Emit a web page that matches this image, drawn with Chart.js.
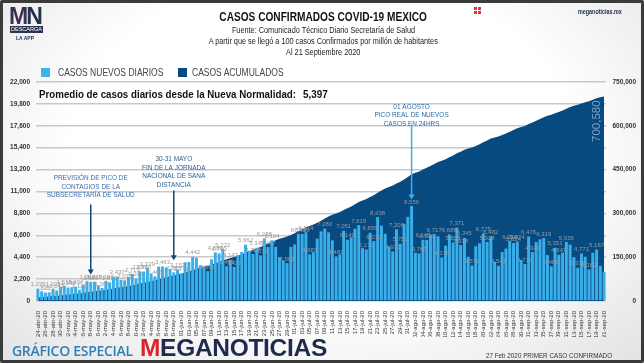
<!DOCTYPE html>
<html>
<head>
<meta charset="utf-8">
<script src="https://cdn.jsdelivr.net/npm/chart.js@4.4.0/dist/chart.umd.min.js"></script>
<style>
  html, body { margin: 0; padding: 0; }
  body {
    width: 644px; height: 363px; position: relative; overflow: hidden;
    background: radial-gradient(ellipse at 50% 40%, #ffffff 55%, #e2e2e2 100%);
    font-family: "Liberation Sans", Arial, sans-serif;
  }
  .frame { position: absolute; left: 0; top: 0; width: 644px; height: 363px; box-sizing: border-box;
    border: 3px solid #3b3b3b; border-radius: 2px; pointer-events: none; z-index: 5; }
  canvas { position: absolute; left: 0; top: 0; }
  .t { position: absolute; white-space: nowrap; }
  .c { left: 0; width: 646px; text-align: center; }
  .n { display: inline-block; transform: scaleX(0.83); transform-origin: left center; }
  .c .n { transform-origin: center center; }
  .title { top: 10px; font-weight: bold; font-size: 12.5px; color: #111; }
  .sub { font-size: 8.5px; color: #222; }
  .leg { top: 67px; font-size: 10px; color: #444; }
  .sq { position: absolute; top: 68px; width: 9px; height: 9px; }
</style>
</head>
<body>
<canvas id="myChart" width="644" height="363"></canvas>

<!-- encabezado -->
<div class="t" style="left:9px;top:5px;font-weight:900;font-size:23px;letter-spacing:-2px;color:#23304f;line-height:22px;"><span style="color:#3a2f4f">M</span>N</div>
<div class="t" style="left:10px;top:26px;width:33px;height:7px;background:#2b3553;color:#fff;font-size:5.5px;line-height:7px;text-align:center;">DESCARGA</div>
<div class="t" style="left:16px;top:35px;font-size:5px;color:#2b3553;font-weight:bold;">LA APP</div>
<div class="t" style="left:474px;top:7px;width:3px;height:3px;background:#d9363e;box-shadow:4px 0 #d9363e,0 4px #d9363e,4px 4px #d9363e;"></div>
<div class="t" style="left:578px;top:8px;font-size:6.5px;font-weight:bold;color:#1c2a4d;"><span class="n">meganoticias.mx</span></div>

<div class="t c title"><span class="n" style="transform:scaleX(0.81)">CASOS CONFIRMADOS COVID-19 MEXICO</span></div>
<div class="t c sub" style="top:25px;"><span class="n" style="transform:scaleX(0.86)">Fuente: Comunicado Técnico Diario Secretaría de Salud</span></div>
<div class="t c sub" style="top:36px;"><span class="n" style="transform:scaleX(0.86)">A partir que se llegó a 100 casos Confirmados por millón de habitantes</span></div>
<div class="t c sub" style="top:47px;"><span class="n" style="transform:scaleX(0.86)">Al 21 Septiembre 2020</span></div>

<!-- leyenda -->
<div class="sq" style="left:41px;background:#3fb3ee;"></div>
<div class="t leg" style="left:58px;"><span class="n" style="transform:scaleX(0.85)">CASOS NUEVOS DIARIOS</span></div>
<div class="sq" style="left:178px;background:#064a80;"></div>
<div class="t leg" style="left:192px;"><span class="n" style="transform:scaleX(0.85)">CASOS ACUMULADOS</span></div>

<div class="t" style="left:39px;top:88px;font-weight:bold;font-size:11px;color:#111;"><span class="n" style="transform:scaleX(0.885)">Promedio de casos diarios desde la Nueva Normalidad:</span></div>
<div class="t" style="left:303px;top:88px;font-weight:bold;font-size:11px;color:#111;"><span class="n" style="transform:scaleX(0.9)">5,397</span></div>

<!-- pie -->
<div class="t" style="left:12px;top:341px;font-family:'Open Sans',Arial;font-weight:600;font-size:14px;color:#2f7fb6;letter-spacing:-0.3px;">GRÁFICO ESPECIAL</div>
<div class="t" style="left:140px;top:334px;font-weight:900;font-size:24.5px;color:#1f2b4c;letter-spacing:-0.3px;"><span style="color:#d8262d">M</span>EGANOTICIAS</div>
<div class="t" style="left:486px;top:352px;font-size:7px;color:#333;"><span class="n" style="transform:scaleX(0.9)">27 Feb 2020 PRIMER CASO CONFIRMADO</span></div>
<div class="frame"></div>

<script>
// Categorías: 24-abr-20 a 21-sep-20
const months = ['abr', 'may', 'jun', 'jul', 'ago', 'sep'];
const monthDays = [[24, 30], [1, 31], [1, 30], [1, 31], [1, 31], [1, 21]];
const dayLabels = [];
monthDays.forEach((r, m) => {
    for (let d = r[0]; d <= r[1]; d++) {
        dayLabels.push(String(d).padStart(2, '0') + '-' + months[m] + '-20');
    }
});

// Casos nuevos diarios
const nuevosDiarios = [
    1239, 970, 835, 852, 1223, 1047, 1425,
    1515, 1349, 1383, 1434, 1120, 1609, 1982, 1906, 1938, 1562, 1305, 1997, 1862, 2409, 2437,
    2112, 2075, 2414, 2713, 2248, 2973, 2960, 3329, 2764, 2485, 3455, 3463, 3377, 3227, 2885, 3152,
    2771, 3891, 3912, 4442, 4346, 3593, 3484, 2999, 4199, 4883, 4790, 5222, 3494, 4147, 3427,
    4599, 4930, 5662, 5030, 4717, 5343, 4577, 6288, 5437, 6104, 5441, 4410, 4050, 3805, 5432,
    5681, 6741, 6740, 6914, 4683, 4902, 6258, 6995, 7280, 6891, 6094, 4482, 4685, 7051, 6149,
    6406, 7257, 7615, 5311, 5172, 6859, 6019, 8438, 7573, 6751, 5480, 4973, 7208, 5752, 7730, 8458,
    9556, 4853, 4767, 6148, 6139, 6590, 6717, 6495, 4376, 5558, 6686, 5858, 7371, 5618, 6345,
    4448, 3571, 5506, 5792, 6775, 5928, 6482, 3948, 3541, 4916, 5267, 6026, 5824, 5974, 4129, 3719,
    6476, 4921, 5937, 6196, 6319, 4614, 3486, 5351, 4647, 4857, 5935, 5674, 4408, 3335, 4771,
    4444, 3182, 4841, 5167, 3542, 2917
];

// Casos acumulados
const acumulados = [
    12872, 13842, 14677, 15529, 16752, 17799, 19224,
    20739, 22088, 23471, 24905, 26025, 27634, 29616, 31522, 33460, 35022, 36327, 38324, 40186,
    42595, 45032, 47144, 49219, 51633, 54346, 56594, 59567, 62527, 65856, 68620, 71105, 74560,
    78023, 81400, 84627, 87512, 90664,
    93435, 97326, 101238, 105680, 110026, 113619, 117103, 120102, 124301, 129184, 133974, 139196,
    142690, 146837, 150264, 154863, 159793, 165455, 170485, 175202, 180545, 185122, 191410, 196847,
    202951, 208392, 212802, 216852, 220657, 226089,
    231770, 238511, 245251, 252165, 256848, 261750, 268008, 275003, 282283, 289174, 295268, 299750,
    304435, 311486, 317635, 324041, 331298, 338913, 344224, 349396, 356255, 362274, 370712, 378285,
    385036, 390516, 395489, 402697, 408449, 416179, 424637,
    434193, 439046, 443813, 449961, 456100, 462690, 469407, 475902, 480278, 485836, 492522, 498380,
    505751, 511369, 517714, 522162, 525733, 531239, 537031, 543806, 549734, 556216, 560164, 563705,
    568621, 573888, 579914, 585738, 591712, 595841, 599560,
    606036, 610957, 616894, 623090, 629409, 634023, 637509, 642860, 647507, 652364, 658299, 663973,
    668381, 671716, 676487, 680931, 684113, 688954, 694121, 697663, 700580
];

const yTicks = { min: 0, max: 22000, step: 2200 };
const y2Ticks = { min: 0, max: 750000, step: 150000 };

// Notas (índice del día al que apuntan)
const notas = [
    { idx: 14, lines: ['PREVISIÓN DE PICO DE', 'CONTAGIOS DE LA', 'SUBSECRETARÍA DE SALUD'], top: 12700, from: 9700, to: 2650, color: '#3b6ea8', arrow: '#0a4678' },
    { idx: 36, lines: ['30-31 MAYO', 'FIN DE LA JORNADA', 'NACIONAL DE SANA', 'DISTANCIA'], top: 14600, from: 11100, to: 4100, color: '#2d5f94', arrow: '#0a4678' },
    { idx: 99, lines: ['01 AGOSTO', 'PICO REAL DE NUEVOS', 'CASOS EN 24HRS'], top: 19900, from: 17700, to: 10200, color: '#2c6aa6', arrow: '#3aaee9' }
];

const fmt = v => v.toLocaleString('en-US');

const labelsPlugin = {
    id: 'etiquetas',
    afterDatasetsDraw(chart) {
        const ctx = chart.ctx;
        const meta = chart.getDatasetMeta(0);
        ctx.save();
        ctx.font = '6px "Liberation Sans", Arial';
        ctx.textAlign = 'center';
        ctx.textBaseline = 'bottom';
        ctx.fillStyle = '#9a9a9a';
        const v = nuevosDiarios;
        meta.data.forEach((bar, i) => {
            const prev = i > 0 ? v[i - 1] : -Infinity;
            const next = i < v.length - 1 ? v[i + 1] : -Infinity;
            const isMax = v[i] > prev && v[i] >= next;
            const isMin = i > 0 && i < v.length - 1 && v[i] < prev && v[i] <= next;
            if (isMax || isMin) ctx.fillText(fmt(v[i]), bar.x, bar.y - 1);
        });

        // notas con flecha
        const xs = chart.scales.x, ys = chart.scales.y;
        notas.forEach(n => {
            const x = xs.getPixelForValue(n.idx);
            ctx.font = '7.5px "Liberation Sans", Arial';
            ctx.fillStyle = n.color;
            ctx.textBaseline = 'top';
            const y0 = ys.getPixelForValue(n.top);
            n.lines.forEach((l, k) => {
                ctx.save();
                ctx.translate(x, y0 + k * 8.5);
                ctx.scale(0.86, 1);
                ctx.fillText(l, 0, 0);
                ctx.restore();
            });
            const ya = ys.getPixelForValue(n.from), yb = ys.getPixelForValue(n.to);
            ctx.strokeStyle = n.arrow;
            ctx.fillStyle = n.arrow;
            ctx.lineWidth = 1.5;
            ctx.beginPath();
            ctx.moveTo(x, ya);
            ctx.lineTo(x, yb - 4);
            ctx.stroke();
            ctx.beginPath();
            ctx.moveTo(x - 3, yb - 5);
            ctx.lineTo(x + 3, yb - 5);
            ctx.lineTo(x, yb);
            ctx.closePath();
            ctx.fill();
        });

        // total acumulado en vertical
        const last = acumulados.length - 1;
        const xl = xs.getPixelForValue(last) - 7;
        const yl = chart.scales.y2.getPixelForValue(acumulados[last]);
        ctx.translate(xl, yl + 4);
        ctx.rotate(-Math.PI / 2);
        ctx.font = '11.5px "Liberation Sans", Arial';
        ctx.textAlign = 'right';
        ctx.textBaseline = 'middle';
        ctx.fillStyle = '#7e9fc4';
        ctx.fillText(fmt(acumulados[last]), 0, 0);
        ctx.restore();
    }
};

const ctx = document.getElementById('myChart').getContext('2d');
const myChart = new Chart(ctx, {
    data: {
        labels: dayLabels,
        datasets: [{
            type: 'bar',
            label: 'CASOS NUEVOS DIARIOS',
            data: nuevosDiarios,
            backgroundColor: '#3aaee9',
            barPercentage: 0.78,
            categoryPercentage: 1,
            yAxisID: 'y',
            order: 0
        }, {
            type: 'line',
            label: 'CASOS ACUMULADOS',
            data: acumulados,
            backgroundColor: '#064a80',
            borderColor: '#064a80',
            borderWidth: 0,
            pointRadius: 0,
            fill: 'origin',
            tension: 0,
            yAxisID: 'y2',
            order: 1
        }]
    },
    options: {
        responsive: false,
        animation: false,
        layout: { padding: { top: 82, left: 0, right: 8, bottom: 26 } },
        plugins: { legend: { display: false }, tooltip: { enabled: false } },
        scales: {
            x: {
                offset: true,
                grid: { display: false },
                border: { display: false },
                afterFit: s => { s.height = 36; },
                ticks: {
                    autoSkip: false, minRotation: 90, maxRotation: 90, padding: 2,
                    font: { size: 6, family: '"Liberation Sans", Arial' }, color: '#333',
                    callback: (val, i) => i % 2 === 0 ? dayLabels[i] : ''
                }
            },
            y: {
                position: 'left',
                min: yTicks.min, max: yTicks.max,
                afterFit: s => { s.width = 36; },
                grid: { color: '#c8c8c8', lineWidth: 1.5, drawTicks: false },
                border: { display: false },
                ticks: {
                    stepSize: yTicks.step, padding: 6, color: '#333',
                    font: { size: 6.5, weight: 'bold', family: '"Liberation Sans", Arial' },
                    callback: v => fmt(v)
                }
            },
            y2: {
                position: 'right',
                min: y2Ticks.min, max: y2Ticks.max,
                afterFit: s => { s.width = 30; },
                grid: { drawOnChartArea: false, drawTicks: false },
                border: { display: false },
                ticks: {
                    stepSize: y2Ticks.step, crossAlign: 'far', color: '#333',
                    font: { size: 6.5, weight: 'bold', family: '"Liberation Sans", Arial' },
                    callback: v => fmt(v)
                }
            }
        }
    },
    plugins: [labelsPlugin]
});
</script>
</body>
</html>
